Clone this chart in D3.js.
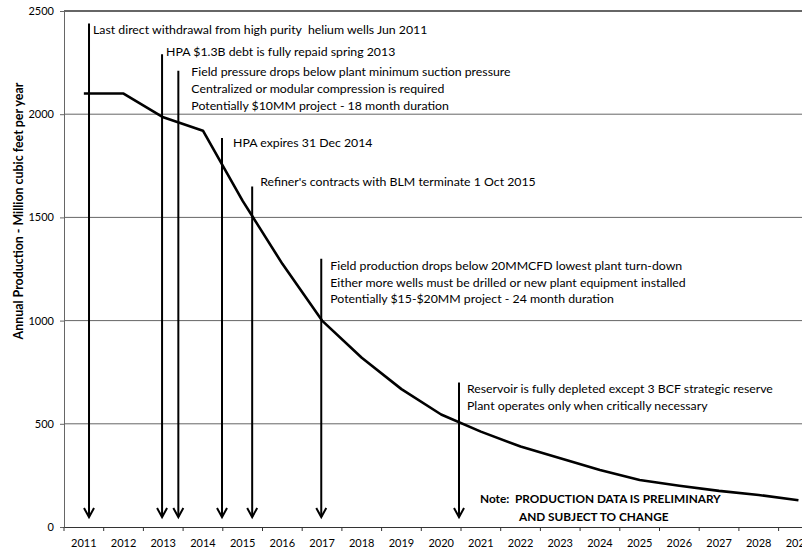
<!DOCTYPE html>
<html>
<head>
<meta charset="utf-8">
<script src="https://cdn.jsdelivr.net/npm/d3@7"></script>
<style>
  body { margin: 0; background: #fff; }
  svg { display: block; }
  text { font-family: Lato, "Open Sans", sans-serif; fill: #000; white-space: pre; }
</style>
</head>
<body>
<svg id="chart" width="802" height="550"></svg>
<script>
// Annual helium field production forecast (million cubic feet per year)
const years = d3.range(2011, 2030).map(String);
const production = [2100, 2100, 1985, 1920, 1580, 1275, 1000, 820, 668, 545, 462, 390, 333, 276, 228, 200, 175, 155, 130];
const yTicks = [0, 500, 1000, 1500, 2000, 2500];

// Key events: fractional year of each event, top of its marker (in chart units), and its caption
const eventDates = [2011.13, 2012.97, 2013.38, 2014.48, 2015.24, 2016.98, 2020.45];
const eventTops = [2440, 2290, 2210, 1885, 1650, 1300, 700];
const eventLabels = [
  ["Last direct withdrawal from high purity  helium wells Jun 2011"],
  ["HPA $1.3B debt is fully repaid spring 2013"],
  ["Field pressure drops below plant minimum suction pressure",
   "Centralized or modular compression is required",
   "Potentially $10MM project - 18 month duration"],
  ["HPA expires 31 Dec 2014"],
  ["Refiner's contracts with BLM terminate 1 Oct 2015"],
  ["Field production drops below 20MMCFD lowest plant turn-down",
   "Either more wells must be drilled or new plant equipment installed",
   "Potentially $15-$20MM project - 24 month duration"],
  ["Reservoir is fully depleted except 3 BCF strategic reserve",
   "Plant operates only when critically necessary"]
];
const arrowTipValue = 48;
const noteLines = ["Note:  PRODUCTION DATA IS PRELIMINARY", "AND SUBJECT TO CHANGE"];
const yTitle = "Annual Production - Million cubic feet per year";

// Caption placement relative to each event marker (pixels)
const captionOffsets = [[4, 6], [4, -3], [13, 1], [11, 5], [8, -5], [9, 7], [8, 6]];
const captionLineGap = 16.6;

const svg = d3.select("#chart");
const plotLeft = 64, plotTop = 11, plotBottom = 527, step = 39.7;
const plotRight = plotLeft + step * years.length;

const x = d3.scaleBand().domain(years).range([plotLeft, plotRight]).padding(0);
const y = d3.scaleLinear().domain([0, 2500]).range([plotBottom, plotTop]);
const xDate = d3.scaleLinear()
  .domain([+years[0], +years[years.length - 1]])
  .range([x(years[0]) + x.bandwidth() / 2, x(years[years.length - 1]) + x.bandwidth() / 2]);

// Horizontal gridlines
svg.append("g").selectAll("line").data(yTicks.filter(d => d > 0)).join("line")
  .attr("x1", plotLeft).attr("x2", plotRight)
  .attr("y1", d => y(d)).attr("y2", d => y(d))
  .attr("stroke", d => d === 2500 ? "#333" : "#666")
  .attr("stroke-width", d => d === 2500 ? 1.5 : 1);

// Y axis
const yAxis = svg.append("g").attr("transform", `translate(${plotLeft},0)`)
  .call(d3.axisLeft(y).tickValues(yTicks).tickFormat(d3.format("d")).tickSize(4).tickPadding(6));
yAxis.select(".domain").attr("stroke", "#666");
yAxis.selectAll(".tick line").attr("stroke", "#666");
yAxis.selectAll("text").style("font-size", "11px");

// X axis
const xAxis = svg.append("g").attr("transform", `translate(0,${plotBottom})`)
  .call(d3.axisBottom(x).tickSize(0).tickPadding(12));
xAxis.select(".domain").attr("stroke", "#333").attr("stroke-width", 1.2);
xAxis.selectAll("text").style("font-size", "11px");
xAxis.append("g").selectAll("line").data(years.concat(["end"])).join("line")
  .attr("x1", (d, i) => plotLeft + i * x.step()).attr("x2", (d, i) => plotLeft + i * x.step())
  .attr("y1", 0).attr("y2", 4).attr("stroke", "#333");

// Y axis title
svg.append("text")
  .attr("transform", `translate(18,211) rotate(-90)`)
  .attr("text-anchor", "middle")
  .attr("dominant-baseline", "central")
  .style("font-size", "12.4px").style("font-weight", "bold")
  .text(yTitle);

// Production line
svg.append("path")
  .datum(production)
  .attr("fill", "none").attr("stroke", "#000").attr("stroke-width", 2.6)
  .attr("stroke-linejoin", "round")
  .attr("d", d3.line().x((d, i) => x(years[i]) + x.bandwidth() / 2).y(d => y(d)));

// Event markers with arrowheads
const ev = svg.append("g").selectAll("g").data(eventDates).join("g");
ev.append("line")
  .attr("x1", d => xDate(d)).attr("x2", d => xDate(d))
  .attr("y1", (d, i) => y(eventTops[i])).attr("y2", y(arrowTipValue))
  .attr("stroke", "#000").attr("stroke-width", 2);
ev.append("path")
  .attr("d", d => `M${xDate(d) - 5},${y(arrowTipValue) - 9} L${xDate(d)},${y(arrowTipValue)} L${xDate(d) + 5},${y(arrowTipValue) - 9}`)
  .attr("fill", "none").attr("stroke", "#000").attr("stroke-width", 2);

ev.each(function (d, i) {
  const g = d3.select(this);
  const [dx, dy] = captionOffsets[i];
  g.selectAll("text").data(eventLabels[i]).join("text")
    .attr("x", xDate(d) + dx)
    .attr("y", (t, j) => y(eventTops[i]) + dy + j * captionLineGap)
    .attr("dominant-baseline", "central")
    .style("font-size", "12.3px")
    .text(t => t);
});

// Preliminary-data note
svg.append("g").selectAll("text").data(noteLines).join("text")
  .attr("x", (d, i) => i === 0 ? 480 : 519)
  .attr("y", (d, i) => 498 + i * 18)
  .attr("dominant-baseline", "central")
  .style("font-size", "11.8px").style("font-weight", "bold")
  .text(d => d);
</script>
</body>
</html>
